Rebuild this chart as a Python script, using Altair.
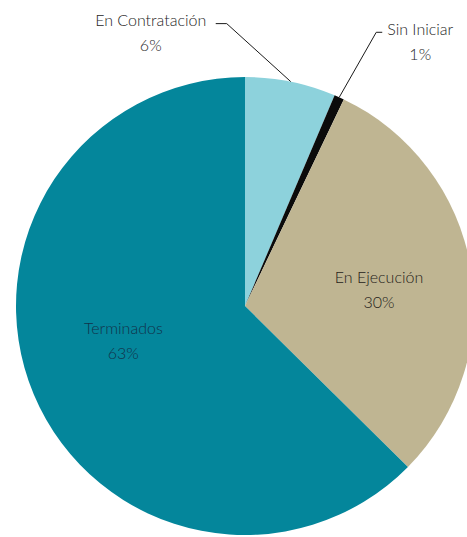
import math
import altair as alt
import pandas as pd

# ---- data ----
categories = ["En Contratación", "Sin Iniciar", "En Ejecución", "Terminados"]
values = [6.4, 0.7, 30.3, 62.6]
pct_labels = ["6%", "1%", "30%", "63%"]
colors = ["#8dd2dc", "#0b0b0b", "#bfb592", "#04869b"]

# ---- layout constants (style) ----
W, H = 467, 537
CX, CY, R = 245, 306, 229
INNER_R = 133
FONT = "Lato"
LINE_GAP = 25

total = sum(values)
df = pd.DataFrame({"cat": categories, "val": values, "order": range(len(values)),
                   "pct": pct_labels})

# mid angles (clockwise from 12 o'clock)
mids = []
acc = 0.0
for v in values:
    a0 = acc / total * 2 * math.pi
    acc += v
    a1 = acc / total * 2 * math.pi
    mids.append((a0 + a1) / 2)

def polar(a, r):
    return CX + r * math.sin(a), CY - r * math.cos(a)

# leader lines for small slices (offsets are style)
# (elbow dx, elbow dy, horizontal tail, label dx from elbow, label dy from elbow)
leader_spec = {0: (-64, -58, -11, -76, -3), 1: (37, -65, 6, 44, -2)}
line_rows, text_rows = [], []
for i, (ex, ey, tail, ldx, ldy) in leader_spec.items():
    x0, y0 = polar(mids[i], R)
    xe, ye = x0 + ex, y0 + ey
    xh = xe + tail
    for k, (px, py) in enumerate([(x0, y0), (xe, ye), (xh, ye)]):
        line_rows.append({"g": categories[i], "k": k, "x": px, "y": py})
    lx, ly = xe + ldx, ye + ldy
    text_rows.append({"x": lx, "y": ly, "t": categories[i], "c": "#262626"})
    text_rows.append({"x": lx, "y": ly + LINE_GAP, "t": pct_labels[i], "c": "#262626"})

inner_col = {2: "#26231a", 3: "#12324a"}
inner_shift = {2: (3, -5), 3: (1, -28)}
for i in (2, 3):
    px, py = polar(mids[i], INNER_R)
    dx, dy = inner_shift[i]
    px, py = px + dx, py + dy
    text_rows.append({"x": px, "y": py, "t": categories[i], "c": inner_col[i]})
    text_rows.append({"x": px, "y": py + LINE_GAP, "t": pct_labels[i], "c": inner_col[i]})

lines = pd.DataFrame(line_rows)
texts = pd.DataFrame(text_rows)

xs = alt.Scale(domain=[0, W], range=[0, W])
ys = alt.Scale(domain=[0, H], range=[0, H])

pie = alt.Chart(df).mark_arc(radius=R).encode(
    theta=alt.Theta("val:Q", stack=True),
    order=alt.Order("order:Q"),
    color=alt.Color("cat:N", scale=alt.Scale(domain=categories, range=colors), legend=None),
    x=alt.value(CX),
    y=alt.value(CY),
)

leader = alt.Chart(lines).mark_line(color="#1a1a1a", strokeWidth=1).encode(
    x=alt.X("x:Q", scale=xs, axis=None),
    y=alt.Y("y:Q", scale=ys, axis=None),
    detail="g:N",
    order="k:Q",
)

labels = alt.Chart(texts).mark_text(font=FONT, fontSize=16, fontWeight=300,
                                     align="center", baseline="middle").encode(
    x=alt.X("x:Q", scale=xs, axis=None),
    y=alt.Y("y:Q", scale=ys, axis=None),
    text="t:N",
    color=alt.Color("c:N", scale=None),
)

chart = alt.layer(pie, leader, labels).properties(
    width=W, height=H, padding=0,
    autosize=alt.AutoSizeParams(type="none"),
    background="white",
).configure_view(stroke=None)

chart.save("out.html", embed_options={"renderer": "svg", "actions": False})
